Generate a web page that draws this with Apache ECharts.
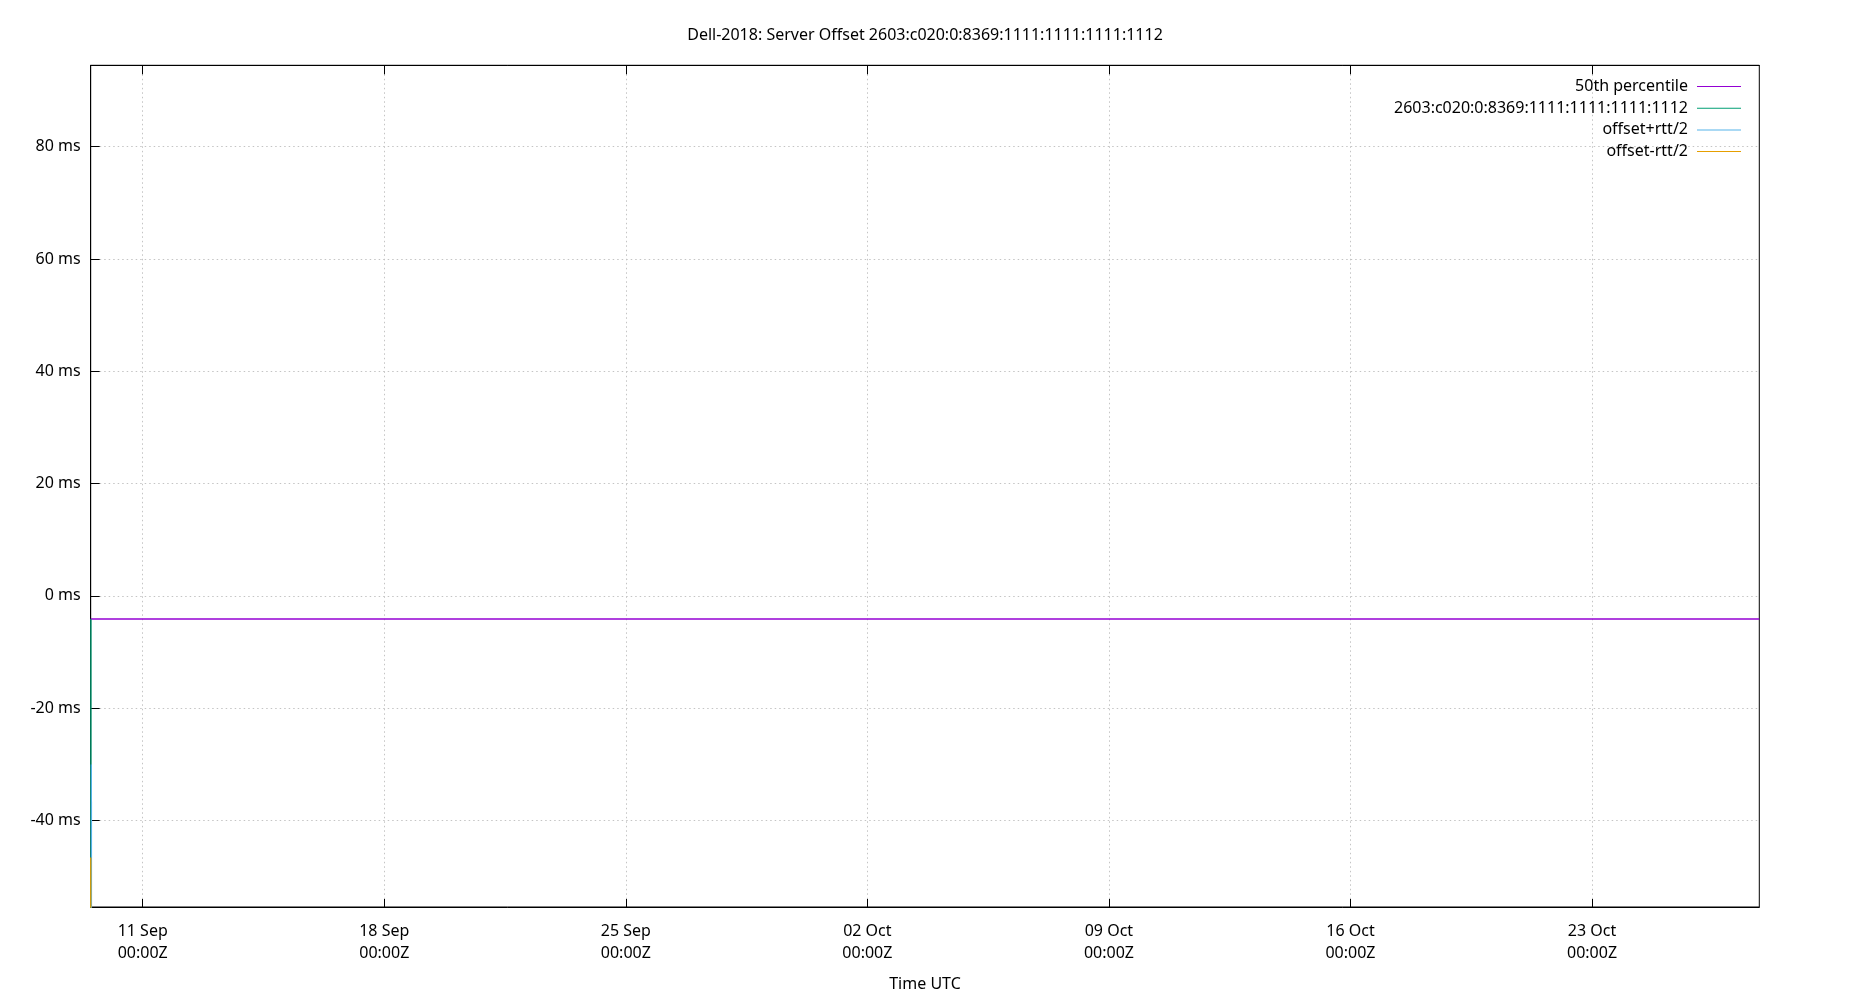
<!DOCTYPE html>
<html>
<head>
<meta charset="utf-8">
<script src="https://cdn.jsdelivr.net/npm/echarts@6/dist/echarts.min.js"></script>
<style>
html,body{margin:0;padding:0;background:#fff;}
#chart{width:1850px;height:1000px;}
</style>
</head>
<body>
<div id="chart"></div>
<script>
// ---- data ----
const titleText = 'Dell-2018: Server Offset 2603:c020:0:8369:1111:1111:1111:1112';
const seriesNames = ['50th percentile', '2603:c020:0:8369:1111:1111:1111:1112', 'offset+rtt/2', 'offset-rtt/2'];
const seriesColors = ['#9400d3', '#009e73', '#56b4e9', '#e69f00'];
const xRange = ['2025-09-09T11:50:00Z', '2025-10-27T20:20:00Z'];
const yRange = [-55.4, 94.5];
const xTickDates = ['2025-09-11T00:00:00Z', '2025-09-18T00:00:00Z', '2025-09-25T00:00:00Z',
                    '2025-10-02T00:00:00Z', '2025-10-09T00:00:00Z', '2025-10-16T00:00:00Z', '2025-10-23T00:00:00Z'];
const yTicks = [-40, -20, 0, 20, 40, 60, 80];
// series samples (time, ms)
const percentile50 = [['2025-09-09T11:50:00Z', -4.11], ['2025-10-27T20:20:00Z', -4.11]];
const offsetVals = [['2025-09-09T11:58:00Z', -4.1], ['2025-09-09T12:08:00Z', -180]];
const offsetPlus = [['2025-09-09T12:18:00Z', -30], ['2025-09-09T12:28:00Z', -160]];
const offsetMinus = [['2025-09-09T11:53:00Z', -46.6], ['2025-09-09T12:03:00Z', -200]];

const months = ['Jan','Feb','Mar','Apr','May','Jun','Jul','Aug','Sep','Oct','Nov','Dec'];
function pad(n){ return (n < 10 ? '0' : '') + n; }
function fmtTime(v){
  const d = new Date(v);
  return pad(d.getUTCDate()) + ' ' + months[d.getUTCMonth()] + '\n' +
         pad(d.getUTCHours()) + ':' + pad(d.getUTCMinutes()) + 'Z';
}
const toTs = s => Date.parse(s);
const conv = arr => arr.map(p => [toTs(p[0]), p[1]]);
const xTickVals = xTickDates.map(toTs);

const FONT = 'Noto Sans';
const gridLine = { show: true, lineStyle: { color: '#c4c4c4', width: 1, type: [1.5, 3] } };

const chart = echarts.init(document.getElementById('chart'));
const option = {
  animation: false,
  backgroundColor: '#fff',
  textStyle: { fontFamily: FONT, color: '#000' },
  title: {
    text: titleText, left: 'center', top: 20,
    textStyle: { fontFamily: FONT, fontSize: 16, fontWeight: 'normal', color: '#000', lineHeight: 20 }
  },
  legend: {
    orient: 'vertical', right: 109, top: 78.5, padding: 0,
    align: 'right', itemWidth: 44, itemHeight: 14, itemGap: 5.7,
    icon: 'path://M0,0 L44,0 L44,1 L0,1 Z',
    itemStyle: { borderWidth: 0 },
    textStyle: { fontFamily: FONT, fontSize: 16, color: '#000', lineHeight: 16, padding: [0, 4, 0, 0] },
    data: seriesNames
  },
  grid: {
    left: 90.7, right: 90.7, top: 65.3, bottom: 93,
    show: true, borderColor: '#000', borderWidth: 1, backgroundColor: 'transparent'
  },
  xAxis: [{
    type: 'value', position: 'bottom',
    min: toTs(xRange[0]), max: toTs(xRange[1]),
    name: 'Time UTC', nameLocation: 'middle', nameGap: 67,
    nameTextStyle: { fontFamily: FONT, fontSize: 16, color: '#000', lineHeight: 20 },
    axisLine: { show: true, onZero: false, lineStyle: { color: '#000', width: 1 } },
    axisTick: { show: true, inside: true, length: 8, customValues: xTickVals, lineStyle: { color: '#000', width: 1 } },
    axisLabel: { show: true, customValues: xTickVals, formatter: fmtTime, margin: 13,
                 fontFamily: FONT, fontSize: 16, color: '#000', lineHeight: 22, hideOverlap: false },
    splitLine: gridLine
  }, {
    type: 'value', position: 'top',
    min: toTs(xRange[0]), max: toTs(xRange[1]),
    axisLine: { show: true, onZero: false, lineStyle: { color: '#000', width: 1 } },
    axisTick: { show: true, inside: true, length: 9, customValues: xTickVals, lineStyle: { color: '#000', width: 1 } },
    axisLabel: { show: false, customValues: xTickVals },
    splitLine: { show: false }
  }],
  yAxis: {
    type: 'value', min: yRange[0], max: yRange[1],
    axisLine: { show: true, onZero: false, lineStyle: { color: '#000', width: 1 } },
    axisTick: { show: true, inside: true, length: 9, customValues: yTicks, lineStyle: { color: '#000', width: 1 } },
    axisLabel: { show: true, customValues: yTicks, formatter: v => v + ' ms', margin: 10,
                 fontFamily: FONT, fontSize: 16, color: '#000' },
    splitLine: gridLine
  },
  series: [
    { name: seriesNames[0], type: 'line', data: conv(percentile50), showSymbol: false, symbol: 'none',
      lineStyle: { color: seriesColors[0], width: 1.3 }, itemStyle: { color: seriesColors[0] }, clip: true, z: 2 },
    { name: seriesNames[1], type: 'line', data: conv(offsetVals), showSymbol: false, symbol: 'none',
      lineStyle: { color: seriesColors[1], width: 1.3 }, itemStyle: { color: seriesColors[1] }, clip: true, z: 3 },
    { name: seriesNames[2], type: 'line', data: conv(offsetPlus), showSymbol: false, symbol: 'none',
      lineStyle: { color: seriesColors[2], width: 1.3 }, itemStyle: { color: seriesColors[2] }, clip: true, z: 4 },
    { name: seriesNames[3], type: 'line', data: conv(offsetMinus), showSymbol: false, symbol: 'none',
      lineStyle: { color: seriesColors[3], width: 1.3 }, itemStyle: { color: seriesColors[3] }, clip: true, z: 5 }
  ]
};
chart.setOption(option);
</script>
</body>
</html>
